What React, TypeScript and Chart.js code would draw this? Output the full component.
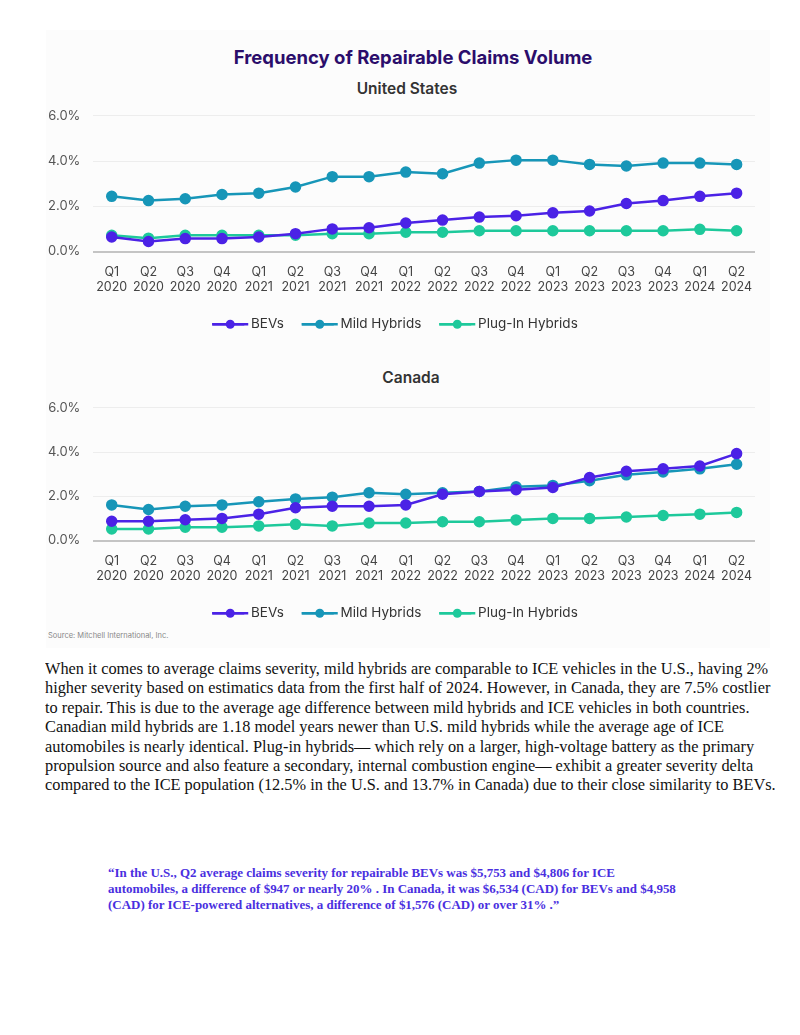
import React, { useEffect, useLayoutEffect, useRef } from 'react';
import { Chart, registerables } from 'chart.js';

Chart.register(...registerables);
Chart.defaults.font.family = 'Inter, "Noto Sans", sans-serif';

// ---------- data ----------
const quarters = ['Q1', 'Q2', 'Q3', 'Q4', 'Q1', 'Q2', 'Q3', 'Q4', 'Q1', 'Q2', 'Q3', 'Q4', 'Q1', 'Q2', 'Q3', 'Q4', 'Q1', 'Q2'];
const years = ['2020', '2020', '2020', '2020', '2021', '2021', '2021', '2021', '2022', '2022', '2022', '2022', '2023', '2023', '2023', '2023', '2024', '2024'];
const seriesNames = ['BEVs', 'Mild Hybrids', 'Plug-In Hybrids'];
const seriesColors = ['#4b22e6', '#1796b8', '#1ec99b'];

const usBEVs = [0.64, 0.44, 0.57, 0.57, 0.64, 0.79, 1.0, 1.05, 1.26, 1.39, 1.52, 1.58, 1.71, 1.79, 2.12, 2.25, 2.44, 2.58];
const usMild = [2.44, 2.25, 2.33, 2.52, 2.58, 2.85, 3.31, 3.31, 3.51, 3.44, 3.91, 4.04, 4.04, 3.85, 3.78, 3.91, 3.91, 3.85];
const usPlugIn = [0.72, 0.59, 0.72, 0.72, 0.72, 0.72, 0.79, 0.79, 0.85, 0.85, 0.92, 0.92, 0.92, 0.92, 0.92, 0.92, 0.98, 0.92];

const caBEVs = [0.87, 0.87, 0.94, 1.0, 1.19, 1.48, 1.55, 1.55, 1.61, 2.09, 2.22, 2.3, 2.4, 2.85, 3.13, 3.24, 3.37, 3.93];
const caMild = [1.61, 1.4, 1.55, 1.61, 1.75, 1.88, 1.96, 2.16, 2.09, 2.16, 2.22, 2.43, 2.49, 2.7, 2.97, 3.1, 3.24, 3.45];
const caPlugIn = [0.52, 0.52, 0.6, 0.6, 0.66, 0.73, 0.66, 0.79, 0.79, 0.85, 0.85, 0.93, 1.0, 1.0, 1.06, 1.13, 1.19, 1.27];

const yMin = 0;
const yMax = 6;
const yStep = 2;

const mainTitle = 'Frequency of Repairable Claims Volume';
const usTitle = 'United States';
const caTitle = 'Canada';
const sourceText = 'Source: Mitchell International, Inc.';

const paragraphLines = [
  'When it comes to average claims severity, mild hybrids are comparable to ICE vehicles in the U.S., having 2%',
  'higher severity based on estimatics data from the first half of 2024. However, in Canada, they are 7.5% costlier',
  'to repair. This is due to the average age difference between mild hybrids and ICE vehicles in both countries.',
  'Canadian mild hybrids are 1.18 model years newer than U.S. mild hybrids while the average age of ICE',
  'automobiles is nearly identical. Plug-in hybrids\u2014 which rely on a larger, high-voltage battery as the primary',
  'propulsion source and also feature a secondary, internal combustion engine\u2014 exhibit a greater severity delta',
  'compared to the ICE population (12.5% in the U.S. and 13.7% in Canada) due to their close similarity to BEVs.',
];

const quoteLines = [
  '\u201CIn the U.S., Q2 average claims severity for repairable BEVs was $5,753 and $4,806 for ICE',
  'automobiles, a difference of $947 or nearly 20% . In Canada, it was $6,534 (CAD) for BEVs and $4,958',
  '(CAD) for ICE-powered alternatives, a difference of $1,576 (CAD) or over 31% .\u201D',
];

// ---------- chart helpers ----------
const LEGEND_FONT = 13.5;
const LEGEND_BOX = 32;
const LEGEND_LINE = 36;

const legendMarkers = {
  id: 'legendMarkers',
  afterDraw(chart: any) {
    const legend = chart.legend;
    if (!legend || !legend.legendHitBoxes) return;
    const ctx = chart.ctx;
    legend.legendHitBoxes.forEach((hb: any, i: number) => {
      const ds = chart.data.datasets[i];
      if (!ds) return;
      const cy = hb.top + LEGEND_FONT / 2;
      ctx.save();
      ctx.strokeStyle = ds.borderColor;
      ctx.lineWidth = 2.5;
      ctx.beginPath();
      ctx.moveTo(hb.left, cy);
      ctx.lineTo(hb.left + LEGEND_LINE, cy);
      ctx.stroke();
      ctx.fillStyle = ds.borderColor;
      ctx.beginPath();
      ctx.arc(hb.left + LEGEND_LINE / 2, cy, 4.5, 0, Math.PI * 2);
      ctx.fill();
      ctx.restore();
    });
  },
};

function makeConfig(seriesValues: number[][]): any {
  return {
    type: 'line',
    data: {
      labels: quarters.map((q, i) => [q, years[i]]),
      datasets: seriesNames.map((name, i) => ({
        label: name,
        data: seriesValues[i],
        borderColor: seriesColors[i],
        backgroundColor: seriesColors[i],
        pointBackgroundColor: seriesColors[i],
        pointBorderColor: seriesColors[i],
        borderWidth: 2.5,
        pointRadius: 4.5,
        pointHoverRadius: 4.5,
        tension: 0,
      })),
    },
    options: {
      animation: false,
      responsive: false,
      maintainAspectRatio: false,
      layout: { padding: { left: 0, right: 15, top: 0, bottom: 0 } },
      plugins: {
        tooltip: { enabled: false },
        title: { display: false },
        legend: {
          position: 'bottom',
          labels: {
            color: '#333333',
            font: { size: LEGEND_FONT },
            boxWidth: LEGEND_BOX,
            boxHeight: 2.5,
            padding: 18,
            generateLabels: (chart: any) =>
              Chart.defaults.plugins.legend.labels.generateLabels(chart).map((l: any) => ({ ...l, lineWidth: 0 })),
          },
        },
      },
      scales: {
        x: {
          type: 'category',
          offset: true,
          grid: { display: false },
          border: { display: false },
          ticks: {
            color: '#444444',
            font: { size: 12.5 },
            maxRotation: 0,
            autoSkip: false,
            padding: 5,
          },
        },
        y: {
          min: yMin,
          max: yMax,
          border: { display: false },
          grid: {
            drawTicks: false,
            color: (ctx: any) => (ctx.tick && ctx.tick.value === 0 ? '#c4c4c4' : '#ededed'),
            lineWidth: (ctx: any) => (ctx.tick && ctx.tick.value === 0 ? 2 : 1),
          },
          ticks: {
            stepSize: yStep,
            color: '#555555',
            font: { size: 13 },
            padding: 13,
            callback: (v: any) => Number(v).toFixed(1) + '%',
          },
        },
      },
    },
    plugins: [legendMarkers],
  };
}

function LineChart({ config, width, height, style }: { config: any; width: number; height: number; style: any }) {
  const ref = useRef<HTMLCanvasElement | null>(null);
  useEffect(() => {
    if (!ref.current) return;
    const chart = new Chart(ref.current, config);
    return () => chart.destroy();
  }, [config]);
  return <canvas ref={ref} width={width} height={height} style={{ position: 'absolute', width, height, ...style }} />;
}

const usConfig = makeConfig([usBEVs, usMild, usPlugIn]);
const caConfig = makeConfig([caBEVs, caMild, caPlugIn]);

function FitLines({ lines, targetWidth, style }: { lines: string[]; targetWidth: number; style: any }) {
  const ref = useRef<HTMLDivElement | null>(null);
  useLayoutEffect(() => {
    const el = ref.current;
    if (!el) return;
    const apply = () => {
      const first = el.children[0] as HTMLElement;
      const w = first.offsetWidth;
      if (w > 0) el.style.transform = `scaleX(${targetWidth / w})`;
    };
    apply();
    if ((document as any).fonts && (document as any).fonts.ready) (document as any).fonts.ready.then(apply);
  }, [targetWidth]);
  return (
    <div ref={ref} style={{ position: 'absolute', transformOrigin: 'left top', ...style }}>
      {lines.map((l, i) => (
        <div key={i} style={{ whiteSpace: 'nowrap', display: 'table' }}>
          {l}
        </div>
      ))}
    </div>
  );
}

const headingBase: any = {
  position: 'absolute',
  left: 0,
  width: 820,
  textAlign: 'center',
  fontFamily: 'Inter, "Noto Sans", sans-serif',
  whiteSpace: 'nowrap',
};

export default function App() {
  return (
    <div style={{ position: 'absolute', left: 0, top: 0, width: 800, height: 1035, background: '#ffffff' }}>
      <div style={{ position: 'absolute', left: 46, top: 30, width: 724, height: 618, background: '#fcfcfc' }} />
      <div style={{ ...headingBase, width: 826, top: 46, fontSize: 18.5, lineHeight: '22px', fontWeight: 700, color: '#2b0d6b' }}>
        {mainTitle}
      </div>
      <div style={{ ...headingBase, width: 814, top: 80, fontSize: 15.5, lineHeight: '18px', fontWeight: 600, color: '#333333' }}>
        {usTitle}
      </div>
      <LineChart config={usConfig} width={735} height={246} style={{ left: 35, top: 95 }} />
      <div style={{ ...headingBase, width: 822, top: 369, fontSize: 15.5, lineHeight: '18px', fontWeight: 600, color: '#333333' }}>
        {caTitle}
      </div>
      <LineChart config={caConfig} width={735} height={243} style={{ left: 35, top: 387 }} />
      <div
        style={{
          position: 'absolute',
          left: 48,
          top: 631,
          fontFamily: 'Inter, sans-serif',
          fontSize: 7.5,
          color: '#888888',
          whiteSpace: 'nowrap',
        }}
      >
        {sourceText}
      </div>
      <FitLines
        lines={paragraphLines}
        targetWidth={723}
        style={{
          left: 45,
          top: 659,
          fontFamily: '"Liberation Serif", "Times New Roman", serif',
          fontSize: 16.5,
          lineHeight: '19.4px',
          color: '#111111',
        }}
      />
      <FitLines
        lines={quoteLines}
        targetWidth={507}
        style={{
          left: 108,
          top: 865,
          fontFamily: '"Liberation Serif", "Times New Roman", serif',
          fontWeight: 'bold',
          fontSize: 13.5,
          lineHeight: '16px',
          color: '#4a2fe0',
        }}
      />
    </div>
  );
}
